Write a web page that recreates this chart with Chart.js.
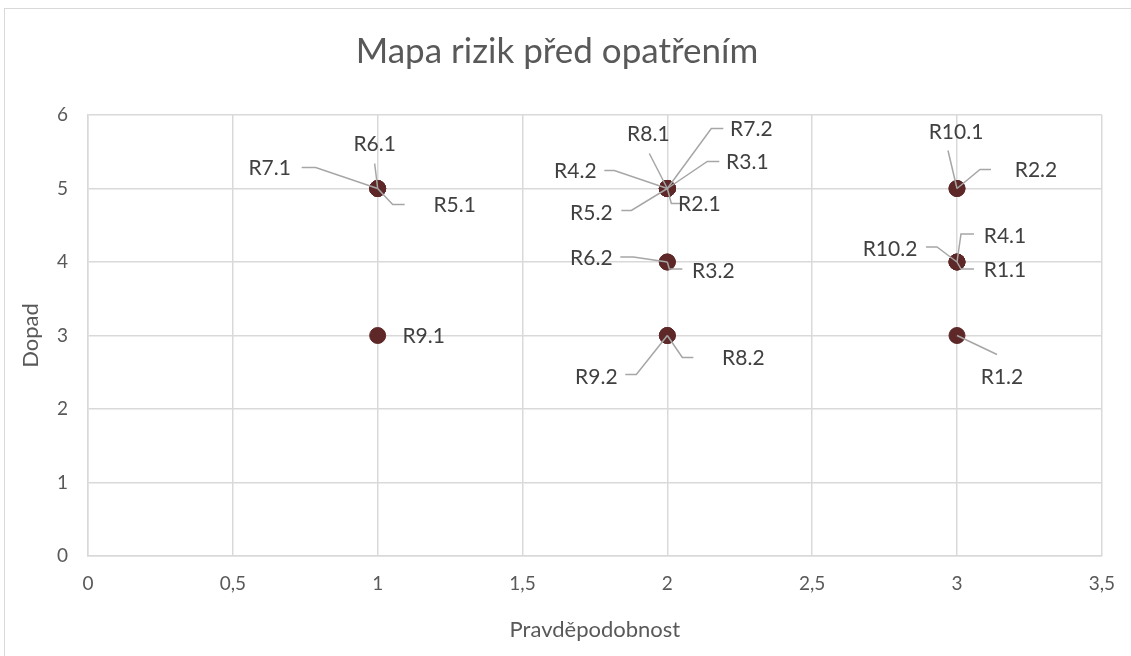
<!DOCTYPE html>
<html>
<head>
<meta charset="utf-8">
<script src="https://cdn.jsdelivr.net/npm/chart.js@4"></script>
<style>
  html, body { margin: 0; padding: 0; background: #fff; }
  #wrap { width: 1131px; height: 656px; }
</style>
</head>
<body>
<div id="wrap"><canvas id="riskChart" width="1131" height="656"></canvas></div>
<script>
// data
const riskNames = ['R1.1','R1.2','R2.1','R2.2','R3.1','R3.2','R4.1','R4.2','R5.1','R5.2',
                   'R6.1','R6.2','R7.1','R7.2','R8.1','R8.2','R9.1','R9.2','R10.1','R10.2'];
const probability = [3, 3, 2, 3, 2, 2, 3, 2, 1, 2, 1, 2, 1, 2, 2, 2, 1, 2, 3, 3];
const impact      = [4, 3, 5, 5, 5, 4, 4, 5, 5, 5, 5, 4, 5, 5, 5, 3, 3, 3, 5, 4];
const xTicks = [0, 0.5, 1, 1.5, 2, 2.5, 3, 3.5];
const yTicks = [0, 1, 2, 3, 4, 5, 6];

// umístění popisků (posun textu a vodicí čáry v px od bodu)
const labelPos = {
  'R6.1': { t: [-3, -44], l: [[-3, -25], [0, 0]] },
  'R7.1': { t: [-108, -20], l: [[-76, -21], [-62, -21], [0, 0]] },
  'R5.1': { t: [77, 17], l: [[0, 0], [15, 16], [27, 16]] },
  'R8.1': { t: [-19, -54], l: [[-18, -35], [0, 0]] },
  'R7.2': { t: [84, -59], l: [[0, 0], [44, -60], [56, -60]] },
  'R4.2': { t: [-92, -17], l: [[-63, -18], [-53, -18], [0, 0]] },
  'R3.1': { t: [80, -26], l: [[0, 0], [40, -27], [52, -27]] },
  'R5.2': { t: [-76, 25], l: [[-46, 22], [-36, 22], [0, 0]] },
  'R2.1': { t: [32, 16], l: [[0, 0], [4, 15], [16, 15]] },
  'R6.2': { t: [-76, -4], l: [[-47, -5], [-34, -5], [0, 0]] },
  'R3.2': { t: [46, 9], l: [[0, 0], [2, 7], [15, 7]] },
  'R9.2': { t: [-71, 42], l: [[-42, 39], [-31, 39], [0, 0]] },
  'R8.2': { t: [76, 23], l: [[0, 0], [15, 22], [26, 22]] },
  'R9.1': { t: [46, 1], l: null },
  'R10.1': { t: [-1, -56], l: [[-9, -38], [0, 0]] },
  'R2.2': { t: [79, -18], l: [[0, 0], [23, -19], [34, -19]] },
  'R4.1': { t: [48, -26], l: [[0, 0], [4, -28], [17, -28]] },
  'R10.2': { t: [-67, -13], l: [[-31, -15], [-20, -15], [0, 0]] },
  'R1.1': { t: [48, 8], l: [[0, 0], [4, 7], [17, 7]] },
  'R1.2': { t: [45, 42], l: [[0, 0], [40, 19]] }
};

const FONT = 'Lato, Carlito, Calibri, sans-serif';
const TEXT = '#595959';
const GRID = '#d9d9d9';

// rámeček grafu
const framePlugin = {
  id: 'frame',
  beforeDraw(chart) {
    const c = chart.ctx;
    c.save();
    c.fillStyle = '#fff';
    c.fillRect(0, 0, chart.width, chart.height);
    c.strokeStyle = GRID;
    c.lineWidth = 1;
    c.strokeRect(4.5, 8.5, 1400, 800);
    c.restore();
  }
};

// popisky s vodicími čarami
const leaderLabels = {
  id: 'leaderLabels',
  afterDatasetsDraw(chart) {
    const c = chart.ctx;
    const xs = chart.scales.x, ys = chart.scales.y;
    c.save();
    riskNames.forEach((name, i) => {
      const px = xs.getPixelForValue(probability[i]);
      const py = ys.getPixelForValue(impact[i]);
      const pos = labelPos[name];
      if (!pos) return;
      if (pos.l) {
        c.beginPath();
        c.strokeStyle = '#a6a6a6';
        c.lineWidth = 1.5;
        pos.l.forEach((p, k) => {
          if (k === 0) c.moveTo(px + p[0], py + p[1]);
          else c.lineTo(px + p[0], py + p[1]);
        });
        c.stroke();
      }
      c.fillStyle = '#404040';
      c.font = '21px ' + FONT;
      c.textAlign = 'center';
      c.textBaseline = 'middle';
      c.fillText(name, px + pos.t[0], py + pos.t[1]);
    });
    c.restore();
  }
};

const ctx = document.getElementById('riskChart').getContext('2d');
new Chart(ctx, {
  type: 'scatter',
  data: {
    datasets: [{
      label: 'Rizika',
      data: riskNames.map((n, i) => ({ x: probability[i], y: impact[i] })),
      backgroundColor: '#5e2828',
      borderColor: '#5e2828',
      pointRadius: 8,
      pointHoverRadius: 8
    }]
  },
  options: {
    responsive: false,
    animation: false,
    layout: { padding: { left: 10, right: 27, top: 10, bottom: 13 } },
    plugins: {
      legend: { display: false },
      tooltip: { enabled: false },
      title: {
        display: true,
        text: 'Mapa rizik před opatřením',
        color: TEXT,
        font: { family: FONT, size: 35, weight: 'normal' },
        padding: { top: 21, bottom: 42 }
      }
    },
    scales: {
      x: {
        type: 'linear',
        min: 0,
        max: 3.5,
        afterBuildTicks: s => { s.ticks = xTicks.map(v => ({ value: v })); },
        afterFit: s => { s.height = 87; },
        grid: { color: GRID, lineWidth: 1.5, drawTicks: false },
        border: { color: GRID, width: 1.5 },
        ticks: {
          color: TEXT,
          font: { family: FONT, size: 19 },
          padding: 16,
          callback: v => String(v).replace('.', ',')
        },
        title: {
          display: true,
          text: 'Pravděpodobnost',
          color: TEXT,
          font: { family: FONT, size: 22 },
          padding: { top: 6, bottom: 0 }
        }
      },
      y: {
        min: 0,
        max: 6,
        afterBuildTicks: s => { s.ticks = yTicks.map(v => ({ value: v })); },
        afterFit: s => { s.width = 78; },
        grid: { color: GRID, lineWidth: 1.5, drawTicks: false },
        border: { color: GRID, width: 1.5 },
        ticks: {
          color: TEXT,
          font: { family: FONT, size: 19 },
          padding: 20
        },
        title: {
          display: true,
          text: 'Dopad',
          color: TEXT,
          font: { family: FONT, size: 22 },
          padding: { top: 8, bottom: 8 }
        }
      }
    }
  },
  plugins: [framePlugin, leaderLabels]
});
</script>
</body>
</html>
